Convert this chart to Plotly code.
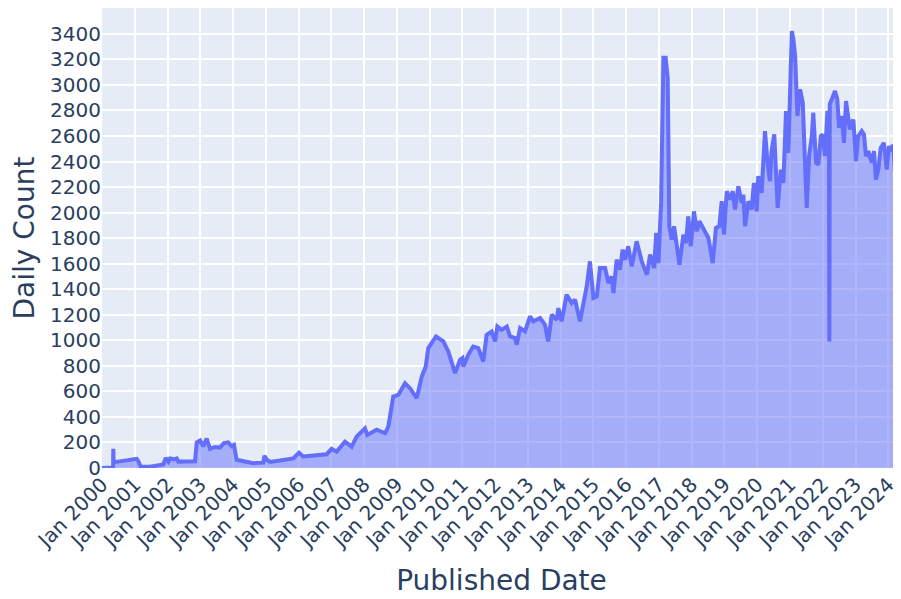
import plotly.graph_objects as go

dates = [
    "2000-01-01", "2000-05-04", "2000-05-06", "2000-05-10", "2000-06-27", "2000-08-25",
    "2000-12-15", "2001-01-22", "2001-02-08", "2001-03-07", "2001-06-19", "2001-10-08",
    "2001-11-14", "2001-12-12", "2002-01-10", "2002-01-28", "2002-03-14", "2002-04-13",
    "2002-05-01", "2002-11-03", "2002-11-22", "2002-12-29", "2003-02-03", "2003-03-13",
    "2003-04-20", "2003-06-14", "2003-08-08", "2003-09-21", "2003-11-08", "2003-12-17",
    "2004-01-11", "2004-02-10", "2004-08-15", "2004-12-03", "2004-12-15", "2005-01-12",
    "2005-02-17", "2005-06-07", "2005-11-03", "2006-01-05", "2006-02-22", "2006-11-10",
    "2007-01-04", "2007-03-01", "2007-06-02", "2007-08-15", "2007-10-10", "2008-01-11",
    "2008-02-06", "2008-05-21", "2008-08-22", "2008-09-27", "2008-11-21", "2009-01-17",
    "2009-04-01", "2009-05-27", "2009-08-10", "2009-10-05", "2009-11-18", "2009-12-17",
    "2010-03-13", "2010-06-03", "2010-07-28", "2010-10-11", "2010-12-06", "2011-01-01",
    "2011-01-11", "2011-03-07", "2011-05-01", "2011-06-27", "2011-08-22", "2011-09-28",
    "2011-11-23", "2012-01-01", "2012-01-26", "2012-03-14", "2012-05-10", "2012-06-16",
    "2012-08-11", "2012-08-29", "2012-10-05", "2012-11-29", "2013-01-24", "2013-03-02",
    "2013-05-16", "2013-07-10", "2013-08-15", "2013-09-23", "2013-11-18", "2013-12-06",
    "2014-01-11", "2014-03-08", "2014-05-04", "2014-06-10", "2014-08-04", "2014-10-18",
    "2014-11-23", "2015-01-01", "2015-02-07", "2015-03-15", "2015-05-11", "2015-06-17",
    "2015-07-24", "2015-08-12", "2015-09-17", "2015-10-23", "2015-11-23", "2015-12-19",
    "2016-01-24", "2016-03-03", "2016-04-27", "2016-06-23", "2016-08-19", "2016-09-24",
    "2016-11-08", "2016-12-01", "2016-12-26", "2017-01-24", "2017-02-19", "2017-03-16",
    "2017-04-08", "2017-04-26", "2017-05-23", "2017-06-18", "2017-07-19", "2017-08-17",
    "2017-09-30", "2017-10-29", "2017-11-23", "2017-12-21", "2018-01-26", "2018-02-26",
    "2018-03-27", "2018-05-10", "2018-07-06", "2018-08-23", "2018-09-28", "2018-11-05",
    "2018-12-01", "2018-12-26", "2019-01-26", "2019-03-04", "2019-04-02", "2019-04-28",
    "2019-06-05", "2019-07-12", "2019-07-30", "2019-08-19", "2019-09-24", "2019-10-31",
    "2019-11-25", "2019-12-26", "2020-01-13", "2020-02-19", "2020-03-28", "2020-04-22",
    "2020-05-22", "2020-06-09", "2020-07-09", "2020-08-16", "2020-09-20", "2020-10-19",
    "2020-11-17", "2020-12-13", "2021-01-21", "2021-02-07", "2021-02-27", "2021-03-24",
    "2021-04-23", "2021-05-23", "2021-07-06", "2021-08-01", "2021-09-01", "2021-09-17",
    "2021-10-18", "2021-11-13", "2021-12-10", "2022-01-01", "2022-01-26", "2022-02-21",
    "2022-03-10", "2022-03-15", "2022-03-20", "2022-04-11", "2022-05-17", "2022-06-12",
    "2022-07-01", "2022-07-31", "2022-08-25", "2022-09-17", "2022-10-12", "2022-10-30",
    "2022-12-08", "2023-01-06", "2023-01-31", "2023-03-11", "2023-04-05", "2023-04-28",
    "2023-05-23", "2023-07-01", "2023-07-26", "2023-08-17", "2023-09-12", "2023-10-09",
    "2023-11-14", "2023-12-15", "2024-01-10", "2024-02-08", "2024-02-26", "2024-03-27",
    "2024-04-23", "2024-05-22",
]

daily_count = [
    0, 3, 150, 45, 50, 55,
    68, 72, 55, 12, 10, 18,
    28, 78, 50, 75, 68, 75,
    50, 52, 200, 215, 170, 230,
    150, 165, 160, 195, 200, 170,
    180, 65, 38, 42, 95, 65,
    48, 58, 75, 120, 90, 108,
    150, 128, 206, 167, 246, 311,
    259, 300, 272, 324, 559, 572,
    664, 625, 547, 716, 795, 939,
    1030, 991, 912, 743, 847, 860,
    795, 886, 951, 939, 834, 1043,
    1069, 991, 1108, 1082, 1108, 1030,
    1017, 965, 1095, 1069, 1187, 1148,
    1174, 1121, 991, 1200, 1161, 1252,
    1148, 1357, 1292, 1318, 1148, 1422,
    1618, 1331, 1344, 1566, 1566, 1449,
    1500, 1370, 1631, 1553, 1710, 1631,
    1736, 1579, 1775, 1618, 1514, 1671,
    1566, 1841, 1605, 2076, 3213, 3213,
    3056, 1893, 1788, 1893, 1736, 1592,
    1827, 1762, 1971, 1736, 2010, 1853,
    1932, 1880, 1801, 1605, 1880, 1893,
    2089, 1827, 2167, 2102, 2167, 2024,
    2206, 2076, 2141, 1893, 2089, 2024,
    2233, 2010, 2285, 2154, 2638, 2416,
    2246, 2481, 2612, 2037, 2337, 2233,
    2795, 2468, 3422, 3357, 3226, 2756,
    2965, 2860, 2037, 2442, 2599, 2782,
    2390, 2376, 2599, 2612, 2442, 2782,
    2782, 991, 2850, 2886, 2952, 2886,
    2664, 2756, 2546, 2873, 2756, 2651,
    2729, 2403, 2599, 2638, 2612, 2442,
    2481, 2390, 2481, 2259, 2337, 2507,
    2546, 2337, 2520, 2481, 2533, 2180,
    2376, 2376,
]

FONT = "DejaVu Sans, Verdana, sans-serif"

fig = go.Figure(
    go.Scatter(
        x=dates,
        y=daily_count,
        mode="lines",
        fill="tozeroy",
        line=dict(color="#636efa", width=4),
    )
)

fig.update_layout(
    template="plotly",
    width=901,
    height=599,
    margin=dict(l=94, r=8, t=0, b=139),
    font=dict(family=FONT, size=20, color="#2a3f5f"),
    showlegend=False,
    xaxis=dict(
        title=dict(text="Published Date", font=dict(size=28), standoff=18),
        dtick="M12",
        tickformat="%b %Y",
        tickangle=-45,
        tickfont=dict(size=20),
        automargin=False,
        gridwidth=2,
    ),
    yaxis=dict(
        title=dict(text="Daily Count", font=dict(size=28)),
        dtick=200,
        tickfont=dict(size=20),
        automargin=False,
        gridwidth=2,
    ),
)

fig.write_html("out.html")
